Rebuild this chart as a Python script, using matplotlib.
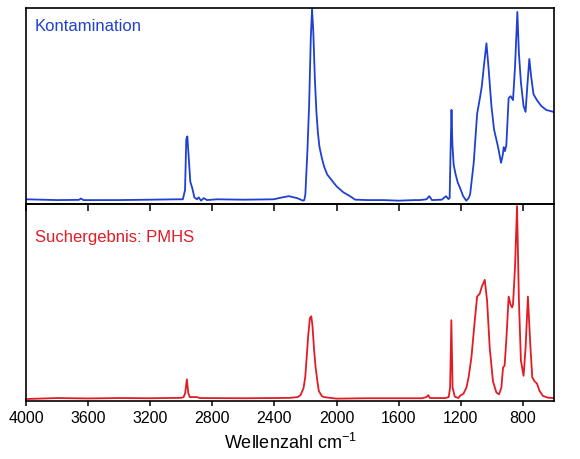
"""IR-Spektrenvergleich: Kontamination vs. Suchergebnis PMHS"""

import matplotlib
matplotlib.use("Agg")
import matplotlib.pyplot as plt

# ── Daten (Intensität relativ) ─────────────────────────────────
wn_kont = [4000, 3800, 3660, 3647, 3630, 3400, 3200, 3030, 2990, 2976, 2968,
           2961, 2951, 2942, 2929, 2916, 2899, 2888, 2873, 2856, 2834, 2770,
           2600, 2404, 2361, 2308, 2254, 2216, 2208, 2201, 2188, 2177, 2166,
           2158, 2150, 2140, 2130, 2120, 2110, 2095, 2080, 2060, 2030, 2000,
           1957, 1914, 1880, 1800, 1700, 1600, 1500, 1464, 1421, 1403, 1386,
           1323, 1295, 1280, 1272, 1266, 1260, 1254, 1246, 1235, 1220, 1204,
           1185, 1165, 1150, 1140, 1117, 1095, 1075, 1065, 1052, 1035, 1022,
           1003, 986, 960, 941, 930, 924, 916, 907, 892, 879, 864, 851, 836,
           826, 813, 796, 783, 772, 759, 747, 732, 710, 682, 650, 603]
int_kont = [0.024, 0.02, 0.021, 0.028, 0.02, 0.02, 0.022, 0.024, 0.024, 0.071,
            0.33, 0.345, 0.224, 0.114, 0.08, 0.034, 0.024, 0.034, 0.017, 0.03,
            0.02, 0.024, 0.022, 0.024, 0.032, 0.04, 0.03, 0.017, 0.02, 0.05,
            0.27, 0.5, 0.85, 0.995, 0.88, 0.64, 0.47, 0.36, 0.29, 0.235, 0.19,
            0.15, 0.12, 0.09, 0.06, 0.04, 0.022, 0.02, 0.02, 0.017, 0.02, 0.02,
            0.024, 0.04, 0.02, 0.022, 0.04, 0.025, 0.03, 0.27, 0.48, 0.3, 0.2,
            0.156, 0.11, 0.08, 0.04, 0.017, 0.03, 0.05, 0.21, 0.46, 0.55, 0.6,
            0.7, 0.82, 0.7, 0.5, 0.38, 0.29, 0.21, 0.25, 0.29, 0.27, 0.3, 0.54,
            0.55, 0.53, 0.7, 0.98, 0.77, 0.62, 0.5, 0.47, 0.6, 0.74, 0.65, 0.56,
            0.53, 0.5, 0.48, 0.47]

wn_pmhs = [4000, 3800, 3600, 3400, 3200, 3000, 2985, 2975, 2964, 2955, 2945,
           2920, 2900, 2880, 2600, 2400, 2300, 2250, 2232, 2213, 2202, 2190,
           2183, 2172, 2163, 2155, 2145, 2135, 2122, 2114, 2095, 2082, 2000,
           1800, 1600, 1450, 1420, 1410, 1399, 1300, 1278, 1269, 1261, 1253,
           1239, 1215, 1206, 1183, 1164, 1150, 1132, 1110, 1095, 1078, 1065,
           1046, 1031, 1014, 993, 971, 954, 939, 928, 918, 907, 892, 880, 870,
           864, 851, 838, 826, 813, 796, 783, 768, 753, 740, 725, 710, 693,
           672, 640, 603]
int_pmhs = [0.01, 0.015, 0.013, 0.015, 0.014, 0.016, 0.02, 0.04, 0.11, 0.04,
            0.02, 0.02, 0.02, 0.015, 0.014, 0.015, 0.016, 0.02, 0.03, 0.065,
            0.12, 0.25, 0.33, 0.42, 0.43, 0.38, 0.26, 0.17, 0.09, 0.05, 0.025,
            0.02, 0.012, 0.014, 0.014, 0.014, 0.02, 0.03, 0.015, 0.015, 0.02,
            0.068, 0.41, 0.068, 0.022, 0.015, 0.026, 0.037, 0.068, 0.12, 0.22,
            0.41, 0.53, 0.545, 0.58, 0.615, 0.51, 0.27, 0.1, 0.043, 0.034,
            0.068, 0.17, 0.18, 0.31, 0.53, 0.49, 0.475, 0.49, 0.68, 0.99, 0.51,
            0.205, 0.128, 0.27, 0.53, 0.29, 0.12, 0.1, 0.089, 0.051, 0.026,
            0.017, 0.015]

x_ticks = [4000, 3600, 3200, 2800, 2400, 2000, 1600, 1200, 800]
label_kont = "Kontamination"
label_pmhs = "Suchergebnis: PMHS"

# ── Stil ──────────────────────────────────────────
plt.rcParams["font.family"] = ["Liberation Sans", "DejaVu Sans"]
plt.rcParams["mathtext.fontset"] = "custom"
plt.rcParams["mathtext.rm"] = "Liberation Sans"
plt.rcParams["mathtext.default"] = "rm"

blue = "#2040d0"
red = "#e01c24"


def main():
    fig = plt.figure(figsize=(5.8, 4.59), dpi=100)
    left, width = 26 / 580, 528 / 580
    ax_top = fig.add_axes([left, 1 - 204 / 459, width, 196 / 459])
    ax_bot = fig.add_axes([left, 1 - 401 / 459, width, 197 / 459])

    # oberes Panel: Kontamination
    ax_top.plot(wn_kont, int_kont, color=blue, lw=1.3)
    ax_top.text(0.017, 0.905, label_kont, transform=ax_top.transAxes,
                color=blue, fontsize=12, va="center")

    # unteres Panel: Suchergebnis
    ax_bot.plot(wn_pmhs, int_pmhs, color=red, lw=1.3, clip_on=False)
    ax_bot.text(0.017, 0.83, label_pmhs, transform=ax_bot.transAxes,
                color=red, fontsize=12, va="center")

    for ax in (ax_top, ax_bot):
        ax.set_xlim(4000, 600)
        ax.set_ylim(0, 1)
        ax.set_yticks([])
        ax.set_xticks(x_ticks)
        for sp in ax.spines.values():
            sp.set_linewidth(1.2)

    # Ticks am Trennstrich zeigen nach unten
    ax_top.set_zorder(2)
    ax_top.patch.set_alpha(0)
    ax_top.tick_params(axis="x", direction="out", length=5, width=1.1,
                       labelbottom=False)
    ax_bot.tick_params(axis="x", direction="out", length=3.5, width=1.1,
                       labelsize=11.5, pad=4)
    ax_bot.set_xlabel("Wellenzahl cm$^{-1}$", fontsize=13, labelpad=5)

    fig.savefig("out.png", dpi=100)


if __name__ == "__main__":
    main()
